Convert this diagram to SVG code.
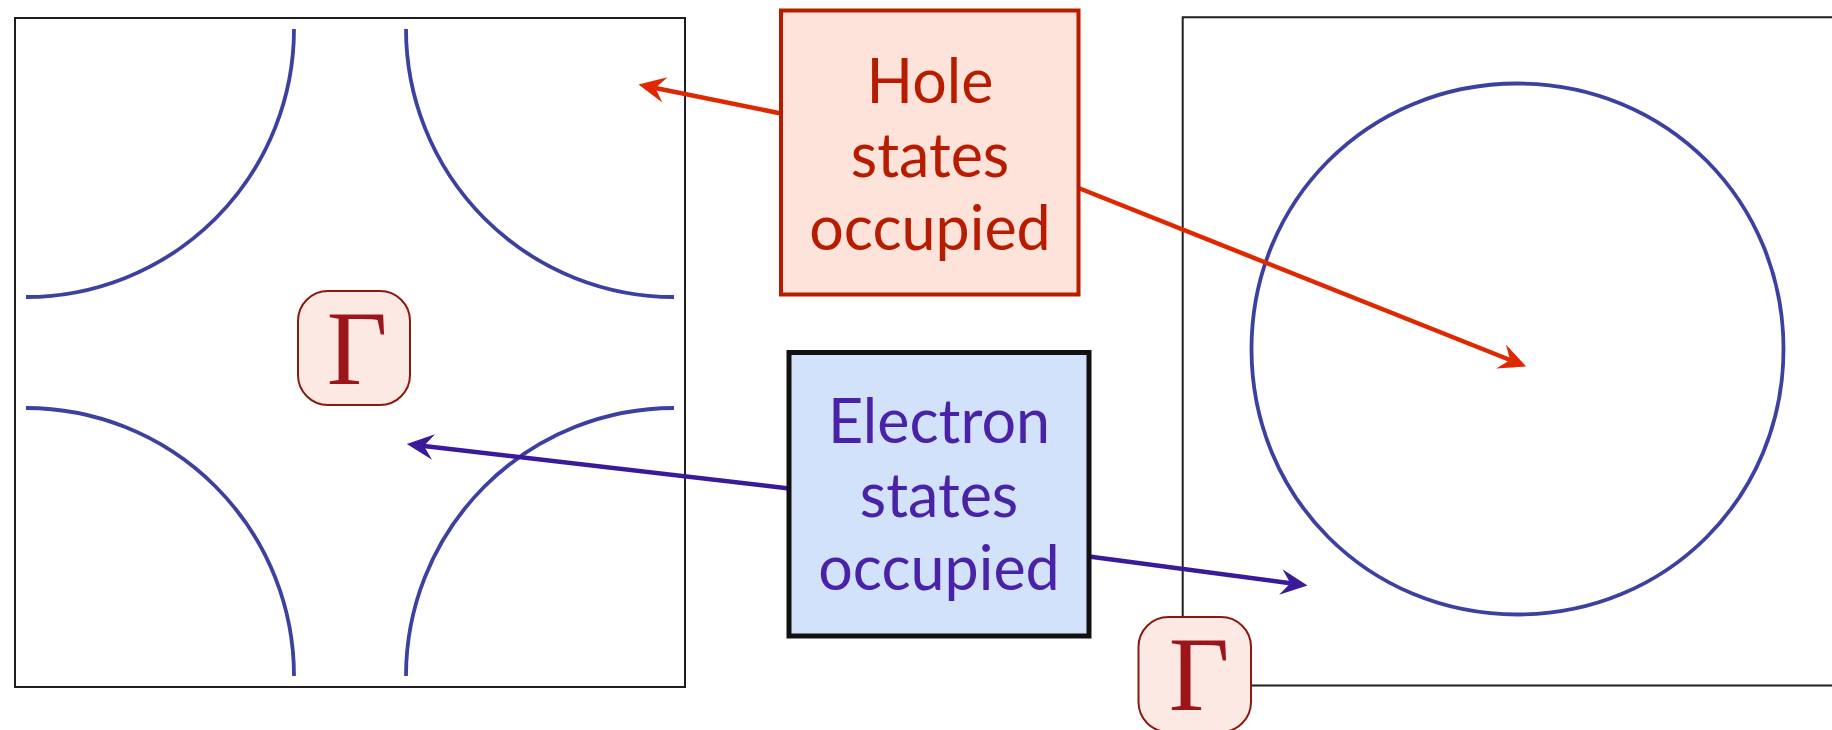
<svg xmlns="http://www.w3.org/2000/svg" width="1832" height="730" viewBox="0 0 1832 730">
<style>
.frame{fill:none;stroke:#1e1e1e;stroke-width:2}
.fs{fill:none;stroke:#3c40a0;stroke-width:3.8;stroke-linecap:butt}
.gbox{fill:#fde9e3;stroke:#8a1a0e;stroke-width:2}
.gtxt{font-family:"Liberation Serif","Times New Roman",serif;font-size:105px;fill:#9b1519;text-anchor:middle}
.lbl{font-family:Lato,"Noto Sans","Liberation Sans",sans-serif;font-size:61px;text-anchor:middle}
.red{fill:none;stroke:#e02800;stroke-width:4.5}
.blue{fill:none;stroke:#3a1a9a;stroke-width:4.5}
</style>
<defs>
<marker id="ahRed" markerUnits="userSpaceOnUse" markerWidth="28" markerHeight="28" viewBox="0 -13 26 26" refX="9" refY="0" orient="auto">
<path d="M0,-12 L25,0 L0,12 L9,0 Z" fill="#e02800"/>
</marker>
<marker id="ahBlue" markerUnits="userSpaceOnUse" markerWidth="28" markerHeight="28" viewBox="0 -13 26 26" refX="9" refY="0" orient="auto">
<path d="M0,-12 L25,0 L0,12 L9,0 Z" fill="#3a1a9a"/>
</marker>
</defs>
<rect width="1832" height="730" fill="#ffffff"/>
<g id="panel-left">
<rect class="frame" x="15" y="18" width="670" height="669"/>
<path class="fs" d="M294,29 A268,268 0 0 1 26,297"/>
<path class="fs" d="M406,29 A268,268 0 0 0 674,297"/>
<path class="fs" d="M26,408 A268,268 0 0 1 294,676"/>
<path class="fs" d="M674,408 A268,268 0 0 0 406,676"/>
</g>
<g id="panel-right">
<path class="frame" stroke-width="1.6" d="M1840,17.2 H1182.7 V685.4 H1840"/>
<path class="fs" d="M1517.5,83.5 C1667,83.5 1783.5,201 1783.5,349 C1783.5,497 1667,614.5 1517.5,614.5 C1368,614.5 1251.5,497 1251.5,349 C1251.5,201 1368,83.5 1517.5,83.5 Z"/>
</g>
<g id="gamma-left">
<rect class="gbox" x="298" y="291" width="112" height="114" rx="30"/>
<text class="gtxt" x="357" y="384">Γ</text>
</g>
<g id="gamma-right">
<rect class="gbox" x="1138.5" y="617" width="112.5" height="115" rx="30"/>
<text class="gtxt" x="1199" y="710">Γ</text>
</g>
<g id="connectors">
<path class="red" d="M781,113.5 L655.4,88" marker-end="url(#ahRed)"/>
<path class="red" d="M1078.5,188 L1510.1,360" marker-end="url(#ahRed)"/>
<path class="blue" d="M789,488.5 L423.9,445.9" marker-end="url(#ahBlue)"/>
<path class="blue" d="M1089,556.5 L1290.4,583.3" marker-end="url(#ahBlue)"/>
</g>
<g id="node-hole">
<rect x="781" y="10.5" width="297.5" height="284" fill="#fde3d9" stroke="#b81c00" stroke-width="4"/>
<text class="lbl" fill="#b71c00"><tspan x="930" y="103">Hole</tspan><tspan x="930" y="177">states</tspan><tspan x="930" y="250">occupied</tspan></text>
</g>
<g id="node-electron">
<rect x="789" y="352.5" width="300" height="283.5" fill="#d3e2fb" stroke="#111111" stroke-width="5"/>
<text class="lbl" fill="#4a22a8"><tspan x="939" y="443">Electron</tspan><tspan x="939" y="517">states</tspan><tspan x="939" y="590">occupied</tspan></text>
</g>
</svg>
